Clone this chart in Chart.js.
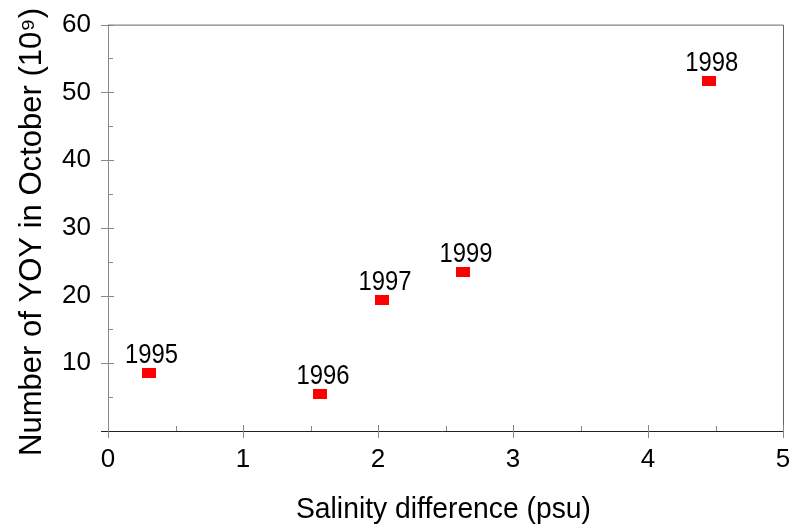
<!DOCTYPE html>
<html>
<head>
<meta charset="utf-8">
<title>YOY vs salinity difference</title>
<script src="https://cdn.jsdelivr.net/npm/chart.js@4.4.1/dist/chart.umd.min.js"></script>
<style>
  html, body { margin: 0; padding: 0; background: #fff; }
  #wrap { width: 803px; height: 531px; }
</style>
</head>
<body>
<div id="wrap"><canvas id="chartYoy" width="803" height="531"></canvas></div>
<script>
// years, salinity difference (psu) and number of YOY in October (10^9)
const years = ["1995", "1996", "1997", "1998", "1999"];
const salinityDiff = [0.30, 1.57, 2.03, 4.45, 2.63];
const yoyCount = [8.6, 5.5, 19.4, 51.6, 23.5];

const xTicks = [0, 1, 2, 3, 4, 5];
const yTicks = [10, 20, 30, 40, 50, 60];

const xTitle = 'Salinity difference (psu)';
const yTitle = 'Number of YOY in October (10⁹)';

const FONT = "'Liberation Sans', Arial, sans-serif";

// red rectangle marker
function crearMarcador() {
    const c = document.createElement('canvas');
    c.width = 14;
    c.height = 10;
    const g = c.getContext('2d');
    g.fillStyle = '#ff0000';
    g.fillRect(0, 0, 14, 10);
    return c;
}

// text squeezed horizontally to a given width
function textoAncho(ctx, texto, x, y, ancho, size) {
    ctx.font = `${size}px ${FONT}`;
    const w = ctx.measureText(texto).width;
    ctx.save();
    ctx.translate(x, y);
    ctx.scale(ancho / w, 1);
    ctx.fillText(texto, 0, 0);
    ctx.restore();
}

// frame, major/minor ticks, axis titles
const marcoPlugin = {
    id: 'marco',
    afterDraw(chart) {
        const { ctx, chartArea: a, scales: { x, y } } = chart;
        ctx.save();
        ctx.lineWidth = 1;

        // top and right border
        ctx.strokeStyle = '#666';
        ctx.beginPath();
        ctx.moveTo(a.left, a.top + 0.5);
        ctx.lineTo(a.right + 0.5, a.top + 0.5);
        ctx.lineTo(a.right + 0.5, a.bottom);
        ctx.stroke();

        // left axis
        ctx.strokeStyle = '#888';
        ctx.beginPath();
        ctx.moveTo(a.left + 0.5, a.top);
        ctx.lineTo(a.left + 0.5, a.bottom + 7);
        ctx.stroke();

        // bottom axis
        ctx.strokeStyle = '#222';
        ctx.beginPath();
        ctx.moveTo(a.left - 7, a.bottom + 0.5);
        ctx.lineTo(a.right + 1, a.bottom + 0.5);
        ctx.stroke();

        ctx.strokeStyle = '#888';
        ctx.beginPath();
        for (let v = 0; v <= 5; v += 0.5) {
            const px = Math.round(x.getPixelForValue(v)) + 0.5;
            const mayor = Number.isInteger(v);
            ctx.moveTo(px, a.bottom - (mayor ? 6 : 5));
            ctx.lineTo(px, a.bottom + (mayor ? 7 : 0));
        }
        for (let v = 5; v <= 60; v += 5) {
            const py = Math.round(y.getPixelForValue(v)) + 0.5;
            const mayor = v % 10 === 0;
            ctx.moveTo(a.left - (mayor ? 7 : 0), py);
            ctx.lineTo(a.left + (mayor ? 6 : 5), py);
        }
        ctx.stroke();

        // axis titles
        ctx.fillStyle = '#000';
        ctx.textAlign = 'center';
        ctx.textBaseline = 'alphabetic';
        textoAncho(ctx, xTitle, 443.5, 518, 295, 30);
        ctx.save();
        ctx.translate(41, 232);
        ctx.rotate(-Math.PI / 2);
        textoAncho(ctx, yTitle, 0, 0, 448, 31);
        ctx.restore();

        ctx.restore();
    }
};

// year labels above each point
const etiquetasPlugin = {
    id: 'etiquetas',
    afterDatasetsDraw(chart) {
        const { ctx } = chart;
        const meta = chart.getDatasetMeta(0);
        ctx.save();
        ctx.fillStyle = '#000';
        ctx.textAlign = 'center';
        ctx.textBaseline = 'alphabetic';
        meta.data.forEach((pt, i) => {
            textoAncho(ctx, years[i], pt.x + 3, pt.y - 10, 53, 27);
        });
        ctx.restore();
    }
};

const ctx = document.getElementById('chartYoy').getContext('2d');
new Chart(ctx, {
    type: 'scatter',
    data: {
        datasets: [{
            data: salinityDiff.map((s, i) => ({ x: s, y: yoyCount[i] })),
            pointStyle: crearMarcador(),
            pointRadius: 7,
            pointHoverRadius: 7
        }]
    },
    options: {
        responsive: false,
        animation: false,
        events: [],
        layout: { padding: { top: 13, right: 20, left: 0, bottom: 0 } },
        plugins: {
            legend: { display: false },
            tooltip: { enabled: false }
        },
        scales: {
            x: {
                type: 'linear',
                min: 0,
                max: 5,
                afterBuildTicks: s => { s.ticks = xTicks.map(v => ({ value: v })); },
                afterFit: s => { s.height = 100; },
                border: { display: false },
                grid: { display: false },
                ticks: {
                    color: '#000',
                    font: { family: FONT, size: 26 },
                    padding: 5,
                    maxRotation: 0
                }
            },
            y: {
                type: 'linear',
                min: 0,
                max: 60,
                afterBuildTicks: s => { s.ticks = yTicks.map(v => ({ value: v })); },
                afterFit: s => { s.width = 108; },
                border: { display: false },
                grid: { display: false },
                ticks: {
                    color: '#000',
                    font: { family: FONT, size: 26 },
                    padding: 9
                }
            }
        }
    },
    plugins: [marcoPlugin, etiquetasPlugin]
});
</script>
</body>
</html>
